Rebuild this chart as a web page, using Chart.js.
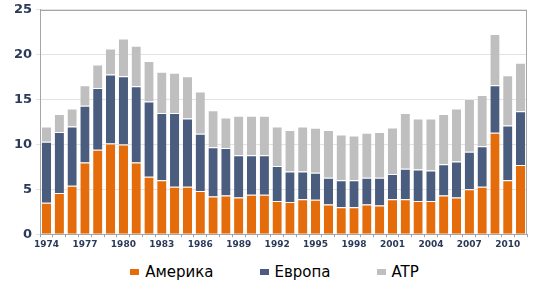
<!DOCTYPE html>
<html lang="ru">
<head>
    <meta charset="UTF-8">
    <title>Америка / Европа / ATP</title>
    <script src="https://cdn.jsdelivr.net/npm/chart.js"></script>
    <style>
        html, body { margin: 0; padding: 0; background: #fff; }
        #wrap { position: relative; width: 541px; height: 254px; }
        #legend {
            width: 541px; height: 36px;
            display: flex; justify-content: center; align-items: center;
            font-family: 'DejaVu Sans', sans-serif; font-size: 15px; color: #000;
            padding-left: 8px; box-sizing: border-box;
        }
        #legend span.item { display: flex; align-items: center; margin: 0 23px; }
        #legend span.box { display: inline-block; width: 9px; height: 6px; margin-right: 6px; }
    </style>
</head>
<body>
    <div id="wrap"><canvas id="chart"></canvas></div>
    <div id="legend"></div>

    <script>
    const years = [];
    for (let y = 1974; y <= 2011; y++) years.push(String(y));

    const america = [3.5, 4.6, 5.4, 8.0, 9.4, 10.1, 10.0, 8.0, 6.4, 6.0, 5.3, 5.3, 4.8, 4.2, 4.3, 4.1, 4.4, 4.4, 3.7, 3.6,
                     3.9, 3.85, 3.3, 3.0, 3.0, 3.3, 3.2, 3.9, 3.9, 3.7, 3.7, 4.3, 4.1, 5.0, 5.3, 11.3, 6.0, 7.7];
    const europe  = [6.8, 6.8, 6.6, 6.3, 6.9, 7.7, 7.6, 8.5, 8.4, 7.5, 8.2, 7.6, 6.4, 5.5, 5.3, 4.7, 4.4, 4.4, 3.9, 3.4,
                     3.1, 3.0, 3.0, 3.0, 3.0, 3.0, 3.1, 2.8, 3.4, 3.5, 3.4, 3.5, 4.0, 4.2, 4.5, 5.3, 6.1, 6.0];
    const apr     = [1.7, 2.0, 2.0, 2.3, 2.6, 2.9, 4.2, 4.5, 4.5, 4.6, 4.5, 4.7, 4.7, 4.1, 3.4, 4.4, 4.4, 4.4, 4.4, 4.6,
                     5.0, 5.0, 5.3, 5.1, 5.0, 5.0, 5.1, 5.2, 6.2, 5.7, 5.8, 5.6, 5.9, 5.9, 5.7, 5.7, 5.6, 5.4];

    const seriesNames = ['Америка', 'Европа', 'ATP'];
    const colors = ['#E46C0A', '#4A5D7E', '#BFBFBF'];

    // frame around the plot area
    const frame = {
        id: 'frame',
        afterDraw(chart) {
            const a = chart.chartArea, c = chart.ctx;
            c.save();
            c.strokeStyle = '#A6A6A6';
            c.lineWidth = 1;
            c.strokeRect(Math.round(a.left) + 0.5, Math.round(a.top) + 0.5,
                         Math.round(a.right - a.left) - 1, Math.round(a.bottom - a.top));
            c.restore();
        }
    };

    function ds(i, data) {
        return {
            label: seriesNames[i],
            data: data,
            backgroundColor: colors[i],
            borderColor: '#ffffff',
            borderWidth: {top: 1, left: 0, right: 0, bottom: 0},
            borderSkipped: 'start',
            barPercentage: 0.72,
            categoryPercentage: 1.0
        };
    }

    const chart = new Chart(document.getElementById('chart').getContext('2d'), {
        type: 'bar',
        data: {
            labels: years,
            datasets: [ds(0, america), ds(1, europe), ds(2, apr)]
        },
        options: {
            responsive: true,
            maintainAspectRatio: false,
            animation: false,
            layout: { padding: { top: 0, right: 14, left: 10, bottom: 2 } },
            plugins: {
                tooltip: { enabled: false },
                legend: { display: false }
            },
            scales: {
                x: {
                    stacked: true,
                    offset: true,
                    grid: { display: true, drawOnChartArea: false, tickLength: 3, color: '#8EA3C4', offset: true },
                    border: { color: '#A6A6A6' },
                    ticks: {
                        autoSkip: false,
                        maxRotation: 0,
                        padding: 2,
                        color: '#2B3A58',
                        font: { family: 'DejaVu Sans', size: 9, weight: 'bold' },
                        callback: function (v, i) { return i % 3 === 0 ? years[i] : ''; }
                    }
                },
                y: {
                    stacked: true,
                    min: 0,
                    max: 25,
                    ticks: {
                        stepSize: 5,
                        padding: 4,
                        color: '#2B3A58',
                        font: { family: 'DejaVu Sans', size: 13, weight: 'bold', lineHeight: 0.9 }
                    },
                    grid: { color: '#E3E3E3', tickLength: 4 },
                    border: { color: '#A6A6A6' }
                }
            }
        },
        plugins: [frame]
    });

    // legend below the chart
    const legend = document.getElementById('legend');
    chart.data.datasets.forEach(function (d) {
        const item = document.createElement('span');
        item.className = 'item';
        const box = document.createElement('span');
        box.className = 'box';
        box.style.background = d.backgroundColor;
        item.appendChild(box);
        item.appendChild(document.createTextNode(d.label));
        legend.appendChild(item);
    });
    </script>
</body>
</html>
